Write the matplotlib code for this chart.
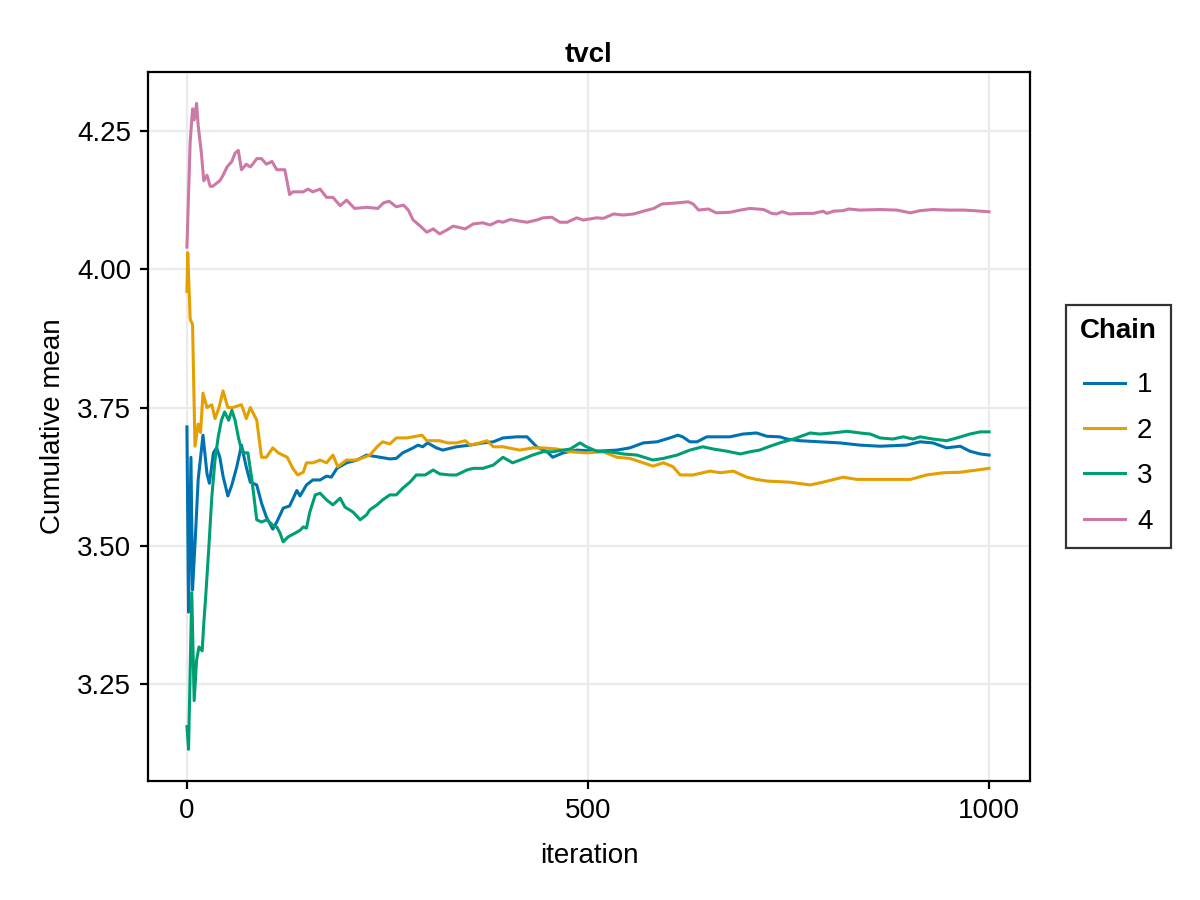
import matplotlib.pyplot as plt
import numpy as np

plt.rcParams['font.family'] = ['Liberation Sans', 'DejaVu Sans']

# chain 1
it1 = [0, 2, 5, 7, 11, 14, 20, 25, 28, 33, 37, 41, 45, 51, 56, 62, 68, 74, 79, 87,
       93, 99, 107, 112, 120, 128, 137, 141, 149, 157, 166, 174, 180, 187, 199, 212,
       224, 241, 253, 261, 269, 282, 288, 294, 300, 311, 319, 336, 353, 369, 382, 394,
       411, 424, 436, 449, 456, 469, 486, 511, 536, 552, 569, 586, 602, 612, 618, 627,
       636, 648, 677, 693, 710, 723, 739, 748, 764, 789, 814, 839, 864, 897, 914, 930,
       947, 964, 976, 989, 1000]
ch1 = [3.715, 3.38, 3.66, 3.42, 3.53, 3.62, 3.70, 3.63, 3.613, 3.668, 3.677, 3.66, 3.626,
       3.59, 3.61, 3.642, 3.682, 3.642, 3.615, 3.61, 3.577, 3.552, 3.53, 3.543, 3.568,
       3.572, 3.60, 3.59, 3.61, 3.619, 3.619, 3.626, 3.624, 3.64, 3.65, 3.655, 3.664,
       3.66, 3.657, 3.658, 3.668, 3.677, 3.682, 3.679, 3.686, 3.677, 3.673, 3.679, 3.682,
       3.686, 3.688, 3.695, 3.697, 3.697, 3.679, 3.67, 3.66, 3.668, 3.673, 3.671, 3.673,
       3.677, 3.686, 3.688, 3.695, 3.70, 3.697, 3.688, 3.688, 3.697, 3.697, 3.702, 3.704,
       3.698, 3.697, 3.693, 3.69, 3.688, 3.686, 3.682, 3.68, 3.682, 3.688, 3.686, 3.677,
       3.68, 3.671, 3.666, 3.664]

# chain 2
it2 = [0, 1, 4, 7, 10, 14, 17, 20, 25, 31, 35, 40, 45, 51, 57, 68, 74, 79, 87, 93, 99,
       107, 114, 125, 132, 138, 145, 149, 157, 166, 174, 182, 188, 199, 212, 228, 237,
       244, 253, 261, 274, 282, 293, 299, 315, 325, 336, 347, 353, 365, 374, 382, 394,
       415, 431, 444, 461, 478, 498, 519, 536, 552, 569, 581, 594, 606, 615, 631, 652,
       665, 681, 698, 710, 723, 751, 777, 793, 818, 835, 855, 880, 902, 922, 943, 964,
       985, 1000]
ch2 = [3.96, 4.03, 3.91, 3.90, 3.68, 3.72, 3.705, 3.776, 3.75, 3.755, 3.73, 3.75, 3.78,
       3.75, 3.75, 3.755, 3.73, 3.75, 3.727, 3.66, 3.66, 3.677, 3.668, 3.66, 3.64, 3.628,
       3.633, 3.65, 3.65, 3.655, 3.65, 3.664, 3.643, 3.655, 3.655, 3.664, 3.679, 3.688,
       3.684, 3.695, 3.695, 3.697, 3.70, 3.69, 3.69, 3.686, 3.686, 3.69, 3.682, 3.686,
       3.69, 3.679, 3.679, 3.673, 3.677, 3.677, 3.675, 3.67, 3.668, 3.67, 3.66, 3.658,
       3.65, 3.644, 3.65, 3.643, 3.628, 3.628, 3.635, 3.632, 3.635, 3.624, 3.62, 3.617,
       3.615, 3.61, 3.615, 3.624, 3.62, 3.62, 3.62, 3.62, 3.628, 3.632, 3.633, 3.637, 3.64]

# chain 3
it3 = [0, 2, 6, 9, 12, 15, 19, 21, 23, 27, 31, 35, 39, 43, 47, 52, 56, 60, 64, 68, 72,
       76, 81, 87, 93, 100, 107, 112, 116, 120, 126, 135, 141, 145, 149, 153, 160, 166,
       174, 182, 191, 197, 207, 216, 224, 228, 237, 244, 253, 261, 269, 278, 286, 297,
       307, 315, 328, 336, 349, 357, 369, 382, 394, 406, 419, 431, 444, 456, 469, 478,
       490, 498, 511, 527, 544, 561, 581, 594, 611, 627, 643, 656, 673, 690, 702, 714,
       727, 739, 756, 777, 789, 805, 823, 839, 852, 864, 880, 893, 905, 914, 930, 947,
       960, 976, 989, 1000]
ch3 = [3.173, 3.132, 3.415, 3.22, 3.293, 3.317, 3.31, 3.36, 3.40, 3.49, 3.588, 3.655,
       3.697, 3.727, 3.742, 3.727, 3.745, 3.727, 3.697, 3.673, 3.668, 3.668, 3.619, 3.547,
       3.543, 3.547, 3.537, 3.534, 3.523, 3.507, 3.516, 3.523, 3.528, 3.534, 3.532, 3.56,
       3.592, 3.595, 3.583, 3.574, 3.586, 3.57, 3.561, 3.547, 3.556, 3.565, 3.574, 3.583,
       3.592, 3.592, 3.604, 3.615, 3.628, 3.628, 3.637, 3.63, 3.628, 3.628, 3.637, 3.64,
       3.64, 3.646, 3.66, 3.65, 3.657, 3.664, 3.67, 3.67, 3.673, 3.675, 3.686, 3.679,
       3.671, 3.67, 3.666, 3.664, 3.655, 3.658, 3.664, 3.673, 3.679, 3.675, 3.671, 3.666,
       3.67, 3.673, 3.68, 3.686, 3.693, 3.704, 3.702, 3.704, 3.707, 3.704, 3.702, 3.695,
       3.693, 3.697, 3.693, 3.697, 3.693, 3.69, 3.695, 3.702, 3.706, 3.706]

# chain 4
it4 = [0, 4, 7, 9, 12, 14, 18, 21, 25, 29, 32, 41, 45, 50, 56, 60, 64, 68, 74, 79, 82,
       87, 93, 99, 106, 112, 122, 128, 132, 145, 151, 157, 166, 174, 182, 191, 199, 209,
       224, 238, 245, 252, 261, 270, 276, 282, 291, 299, 307, 315, 324, 332, 347, 357,
       369, 378, 388, 394, 403, 415, 424, 436, 444, 455, 465, 474, 486, 494, 511, 519,
       532, 544, 557, 569, 582, 592, 611, 625, 631, 638, 650, 660, 677, 690, 702, 719,
       729, 735, 742, 751, 768, 781, 793, 798, 806, 818, 825, 839, 864, 885, 902, 914,
       930, 951, 968, 980, 1000]
ch4 = [4.04, 4.23, 4.29, 4.27, 4.30, 4.26, 4.21, 4.16, 4.17, 4.15, 4.15, 4.16, 4.17,
       4.185, 4.195, 4.21, 4.215, 4.18, 4.19, 4.185, 4.19, 4.20, 4.20, 4.19, 4.195, 4.18,
       4.18, 4.135, 4.14, 4.14, 4.145, 4.14, 4.145, 4.13, 4.13, 4.115, 4.125, 4.11, 4.112,
       4.11, 4.12, 4.123, 4.113, 4.116, 4.107, 4.089, 4.078, 4.067, 4.073, 4.064, 4.071,
       4.078, 4.073, 4.082, 4.084, 4.08, 4.087, 4.085, 4.09, 4.087, 4.085, 4.089, 4.093,
       4.094, 4.085, 4.085, 4.093, 4.089, 4.093, 4.092, 4.10, 4.098, 4.10, 4.105, 4.11,
       4.118, 4.12, 4.122, 4.118, 4.107, 4.109, 4.102, 4.103, 4.107, 4.11, 4.108, 4.101,
       4.10, 4.104, 4.10, 4.101, 4.101, 4.105, 4.101, 4.105, 4.106, 4.109, 4.107, 4.108,
       4.107, 4.102, 4.106, 4.108, 4.107, 4.107, 4.106, 4.104]

chains = ['1', '2', '3', '4']
colors = ['#0072B2', '#E69F00', '#009E73', '#CC79A7']

fig = plt.figure(figsize=(6, 4.5), dpi=200)
ax = fig.add_axes([0.1233, 0.1322, 0.7350, 0.7878])

for its, vals, lab, c in zip([it1, it2, it3, it4], [ch1, ch2, ch3, ch4], chains, colors):
    ax.plot(its, vals, color=c, lw=1.1, label=lab)

ax.set_xlim(-48.6, 1051)
ax.set_ylim(3.0746, 4.3567)
ax.set_xticks([0, 500, 1000])
ax.set_yticks([3.25, 3.5, 3.75, 4.0, 4.25])
ax.set_yticklabels(['3.25', '3.50', '3.75', '4.00', '4.25'])
ax.grid(True, color='#ebebeb', lw=0.8)
ax.set_axisbelow(True)
ax.tick_params(direction='out', length=3, width=0.8, labelsize=10, pad=3)
for s in ax.spines.values():
    s.set_linewidth(0.8)

ax.set_xlabel('iteration', fontsize=10, labelpad=7)
ax.set_ylabel('Cumulative mean', fontsize=10, labelpad=4)
ax.set_title('tvcl', fontsize=10, fontweight='bold', pad=3.5)

leg = ax.legend(title='Chain', loc='center left', bbox_to_anchor=(1.041, 0.5),
                borderaxespad=0, fontsize=10,
                title_fontproperties={'weight': 'bold', 'size': 10},
                frameon=True, fancybox=False, edgecolor='black', handlelength=1.45,
                handletextpad=0.45, labelspacing=0.7, borderpad=0.5,
                alignment='center')
leg.get_frame().set_linewidth(0.8)
# a bit more room between the title and the entries
leg._legend_box.sep = 10

fig.savefig('out.png', dpi=200)
